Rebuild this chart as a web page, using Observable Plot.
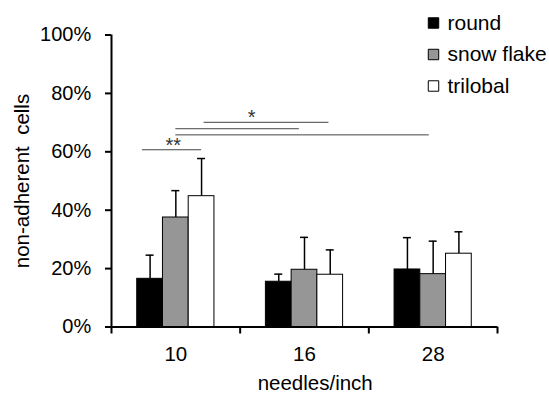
<!DOCTYPE html>
<html>
<head>
<meta charset="utf-8">
<script src="https://cdn.jsdelivr.net/npm/d3@7"></script>
<script src="https://cdn.jsdelivr.net/npm/@observablehq/plot@0.6"></script>
<style>
  html, body { margin: 0; padding: 0; background: #fff; }
  #chart svg { display: block; }
</style>
</head>
<body>
<div id="chart"></div>
<script>
// ---- data ----
const groups = ["10", "16", "28"];                 // needles/inch
const series = ["round", "snow flake", "trilobal"];
const colors = ["#000000", "#969696", "#ffffff"];
const roundMean = [16.5, 15.5, 19.7];
const roundSD   = [8.1, 2.6, 10.9];
const snowMean  = [37.5, 19.6, 18.1];
const snowSD    = [9.2, 11.1, 11.3];
const triMean   = [44.8, 17.9, 25.1];
const triSD     = [12.9, 8.5, 7.5];
const yTicks = [0, 20, 40, 60, 80, 100];
// significance brackets (x in group units, y in %)
const sigX1 = [0.24, 0.5, 0.5, 0.72];
const sigX2 = [0.70, 2.47, 1.46, 1.69];
const sigY  = [60.7, 65.8, 67.9, 70.1];
const starLabels = ["**", "*"];
const starX = [0.48, 1.09];
const starY = [62.0, 71.6];

// ---- table built from arrays ----
const means = [roundMean, snowMean, triMean];
const sds = [roundSD, snowSD, triSD];
const bars = [];
groups.forEach((g, gi) => {
  series.forEach((s, si) => {
    const x1 = gi + 0.2 + si * 0.2;
    bars.push({group: g, series: s, x1, x2: x1 + 0.2, xc: x1 + 0.1,
      value: means[si][gi], upper: means[si][gi] + sds[si][gi], color: colors[si]});
  });
});
const sig = sigY.map((y, i) => ({x1: sigX1[i], x2: sigX2[i], y}));
const stars = starLabels.map((t, i) => ({t, x: starX[i], y: starY[i]}));

const legendMarks = series.flatMap((s, i) => [
  Plot.dot([s], {frameAnchor: "top-left", dx: 322, dy: -12 + i * 31.5,
    symbol: "square", r: 5.9, fill: colors[i], stroke: "#000", strokeWidth: 1}),
  Plot.text([s], {frameAnchor: "top-left", dx: 336, dy: -12 + i * 31.5,
    text: d => d, textAnchor: "start", lineAnchor: "middle", fontSize: 21, fill: "#000"})
]);

const chart = Plot.plot({
  width: 549,
  height: 393,
  marginLeft: 111,
  marginRight: 52,
  marginTop: 34.5,
  marginBottom: 66.5,
  x: {domain: [0, 3], axis: null},
  y: {domain: [0, 100], axis: null},
  style: {fontFamily: "'Liberation Sans', Arial, sans-serif", fontSize: "20px", color: "#000", background: "#fff", overflow: "visible"},
  marks: [
    // error bars
    Plot.ruleX(bars, {x: "xc", y1: "value", y2: "upper", stroke: "#000", strokeWidth: 1.5}),
    Plot.ruleY(bars, {x1: "xc", x2: "xc", y: "upper", insetLeft: -4, insetRight: -4, stroke: "#000", strokeWidth: 1.5}),
    // bars
    Plot.rectY(bars, {x1: "x1", x2: "x2", y1: 0, y2: "value", fill: "color", stroke: "#000", strokeWidth: 1}),
    // significance lines
    Plot.ruleY(sig, {x1: "x1", x2: "x2", y: "y", stroke: "#444", strokeWidth: 1}),
    Plot.text(stars, {x: "x", y: "y", text: "t", fontSize: 20, fill: "#333", lineAnchor: "middle"}),
    // y axis
    Plot.axisY({ticks: yTicks, tickSize: 6, tickPadding: 14.3, tickFormat: d => d + "%", strokeWidth: 2, fontSize: 20}),
    Plot.ruleX([0], {y1: 0, y2: 100, stroke: "#000", strokeWidth: 2}),
    // x axis
    Plot.ruleY([0], {x1: 0, x2: 3, stroke: "#000", strokeWidth: 2}),
    Plot.axisX({ticks: [0, 1, 2, 3], tickSize: 7, tickFormat: () => "", strokeWidth: 2}),
    Plot.text(groups, {x: (d, i) => i + 0.5, y: 0, dy: 19.5, text: d => d, lineAnchor: "top", fontSize: 20.5, fill: "#000"}),
    // axis titles
    Plot.text(["needles/inch"], {frameAnchor: "bottom", dx: 10.7, dy: 48.5, text: d => d, lineAnchor: "top", fontSize: 20.5, fill: "#000"}),
    Plot.text(["non-adherent\u00a0\u00a0cells"], {frameAnchor: "left", dx: -82.5, rotate: -90, text: d => d, lineAnchor: "bottom", textAnchor: "middle", fontSize: 20.5, fill: "#000"}),
    ...legendMarks
  ]
});
document.getElementById("chart").append(chart);
</script>
</body>
</html>
